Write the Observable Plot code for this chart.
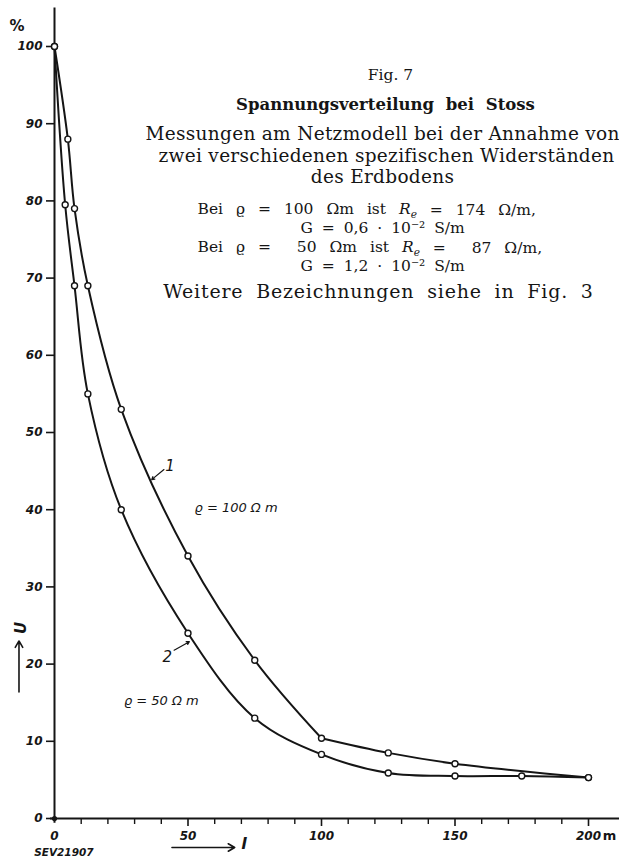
<!DOCTYPE html>
<html>
<head>
<meta charset="utf-8">
<script src="https://cdn.jsdelivr.net/npm/d3@7"></script>
<script src="https://cdn.jsdelivr.net/npm/@observablehq/plot@0.6"></script>
<style>
  html, body { margin: 0; padding: 0; background: #fff; }
  svg text { white-space: pre; }
</style>
</head>
<body>
<div id="chart"></div>
<script>
// Measured impulse voltage U (%) along the line, distance l in metres
const lengthsRho100 = [0, 5, 7.5, 12.5, 25, 50, 75, 100, 125, 150, 200];
const voltageRho100 = [100, 88, 79, 69, 53, 34, 20.5, 10.4, 8.5, 7.1, 5.3];
const lengthsRho50 = [0, 4, 7.5, 12.5, 25, 50, 75, 100, 125, 150, 175, 200];
const voltageRho50 = [100, 79.5, 69, 55, 40, 24, 13, 8.3, 5.9, 5.5, 5.5, 5.3];

// Axis ticks
const yTicks = [0, 10, 20, 30, 40, 50, 60, 70, 80, 90, 100];
const xLabelTicks = [0, 50, 100, 150, 200];
const xMinorTicks = [10, 20, 30, 40, 60, 70, 80, 90, 110, 120, 130, 140, 160, 170, 180, 190];

// Caption block
const noteTitle = "Fig. 7";
const noteHeading = "Spannungsverteilung bei Stoss";
const noteBody = [
  "Messungen am Netzmodell bei der Annahme von",
  "zwei verschiedenen spezifischen Widerständen",
  "des Erdbodens"
];
const noteParams = [
  "Bei ϱ = 100 Ωm ist Rₑ = 174 Ω/m,",
  "G = 0,6 · 10⁻² S/m",
  "Bei ϱ =  50 Ωm ist Rₑ =  87 Ω/m,",
  "G = 1,2 · 10⁻² S/m"
];
const noteRef = "Weitere Bezeichnungen siehe in Fig. 3";
const curveLabels = ["1", "2"];
const rhoLabels = ["ϱ = 100 Ω m", "ϱ = 50 Ω m"];

const rows = (ls, us, series) => ls.map((l, i) => ({l, u: us[i], series}));
const rho100 = rows(lengthsRho100, voltageRho100, "100");
const rho50 = rows(lengthsRho50, voltageRho50, "50");

// curve 1 has a visible bend at l = 100 m, so it is drawn in two smooth pieces
const rho100Near = rho100.filter(d => d.l <= 100);
const rho100Far = rho100.filter(d => d.l >= 100);

const ink = "#151515";
const hand = {fontFamily: "DejaVu Sans", fontStyle: "oblique", fill: ink};
const serif = {fontFamily: "DejaVu Serif", fill: ink};

// text placed relative to the top-left corner of the frame
const note = (text, dx, dy, opts = {}) =>
  Plot.text([text], {text: d => d, frameAnchor: "top-left", dx, dy, textAnchor: "middle", lineAnchor: "middle", ...serif, ...opts});

const chart = Plot.plot({
  width: 619,
  height: 859,
  marginLeft: 54,
  marginRight: 31,
  marginTop: 46,
  marginBottom: 41,
  style: {background: "#fff", color: ink},
  x: {domain: [0, 200]},
  y: {domain: [0, 100]},
  marks: [
    // axis lines
    Plot.ruleX([0], {y1: -0.6, y2: 105, stroke: ink, strokeWidth: 2}),
    Plot.ruleY([0], {x1: -1.5, x2: 213, stroke: ink, strokeWidth: 2}),
    Plot.axisY({ticks: yTicks, tickSize: 8, tickPadding: 4, label: null, strokeWidth: 1.6,
      fontSize: 12, fontWeight: "bold", ...hand}),
    Plot.axisX({ticks: xLabelTicks.filter(d => d > 0), tickSize: 8, tickPadding: 5, label: null, strokeWidth: 1.6,
      fontSize: 12, fontWeight: "bold", ...hand}),
    Plot.axisX({ticks: xMinorTicks, tickSize: 6, text: null, label: null, strokeWidth: 1.4}),
    Plot.text([xLabelTicks[0]], {x: d => d, y: 0, dy: 18, text: d => String(d), fontSize: 12, fontWeight: "bold", ...hand}),
    Plot.text(["m"], {x: 200, y: 0, dx: 21, dy: 17, text: d => d, fontSize: 13, fontFamily: "DejaVu Sans", fontWeight: "bold", fill: ink}),
    Plot.dot([0], {x: 0, y: 0, r: 2.6, fill: ink}),

    // axis titles
    Plot.text(["%"], {x: -14, y: 102.6, text: d => d, fontSize: 15, fontWeight: "bold", fontFamily: "DejaVu Sans", fill: ink}),
    Plot.text(["U"], {x: -12.5, y: 24.7, text: d => d, rotate: -90, fontSize: 15, fontWeight: "bold", ...hand}),
    Plot.arrow([0], {x1: -13.3, y1: 16.4, x2: -13.3, y2: 23.0, stroke: ink, strokeWidth: 1.6, headLength: 7}),
    Plot.arrow([0], {x1: 44, y1: -3.75, x2: 67.5, y2: -3.75, stroke: ink, strokeWidth: 1.6, headLength: 7}),
    Plot.text(["l"], {x: 71, y: -3.3, text: d => d, fontSize: 16, fontWeight: "bold", ...hand}),
    Plot.text(["SEV21907"], {x: 3.5, y: -4.4, text: d => d, fontSize: 10.5, fontWeight: "bold", ...hand}),

    // measured curves
    Plot.line(rho100Near, {x: "l", y: "u", curve: "catmull-rom", stroke: ink, strokeWidth: 2}),
    Plot.line(rho100Far, {x: "l", y: "u", curve: "catmull-rom", stroke: ink, strokeWidth: 2}),
    Plot.line(rho50, {x: "l", y: "u", curve: "catmull-rom", stroke: ink, strokeWidth: 2}),
    Plot.dot([...rho100, ...rho50], {x: "l", y: "u", r: 3, fill: "#fff", stroke: ink, strokeWidth: 1.4}),

    // curve labels
    Plot.text([curveLabels[0]], {x: 43.3, y: 45.6, text: d => d, fontSize: 15, ...hand}),
    Plot.arrow([0], {x1: 41, y1: 45.2, x2: 36.4, y2: 43.9, stroke: ink, strokeWidth: 1.2, headLength: 4}),
    Plot.text([rhoLabels[0]], {x: 68, y: 40.3, text: d => d, fontSize: 13, ...hand}),
    Plot.text([curveLabels[1]], {x: 42.2, y: 20.9, text: d => d, fontSize: 15, ...hand}),
    Plot.arrow([0], {x1: 44.8, y1: 21.8, x2: 50.5, y2: 22.9, stroke: ink, strokeWidth: 1.2, headLength: 4}),
    Plot.text([rhoLabels[1]], {x: 40, y: 15.3, text: d => d, fontSize: 13, ...hand}),

    // caption block
    note(noteTitle, 390 - 54, 75 - 46, {fontSize: 15.5}),
    note(noteHeading, 385 - 54, 104 - 46, {fontSize: 16.5, fontWeight: "bold"}),
    note(noteBody[0], 145 - 54, 134 - 46, {fontSize: 18.5, textAnchor: "start"}),
    note(noteBody[1], 386 - 54, 156 - 46, {fontSize: 18.5}),
    note(noteBody[2], 382 - 54, 177 - 46, {fontSize: 18.5}),
    note(noteParams[0], 197 - 54, 209 - 46, {fontSize: 15.5, textAnchor: "start"}),
    note(noteParams[1], 300 - 54, 228 - 46, {fontSize: 15.5, textAnchor: "start"}),
    note(noteParams[2], 197 - 54, 247 - 46, {fontSize: 15.5, textAnchor: "start"}),
    note(noteParams[3], 300 - 54, 266 - 46, {fontSize: 15.5, textAnchor: "start"}),
    note(noteRef, 378 - 54, 291 - 46, {fontSize: 19})
  ]
});

// letter and word spacing of the caption lines
const spacing = new Map([
  [noteHeading, ["0px", "6px"]],
  [noteBody[0], ["0.3px", "0px"]],
  [noteBody[1], ["0.3px", "0px"]],
  [noteBody[2], ["0.3px", "0px"]],
  [noteParams[0], ["0px", "8px"]],
  [noteParams[1], ["0px", "4px"]],
  [noteParams[2], ["0px", "8px"]],
  [noteParams[3], ["0px", "4px"]],
  [noteRef, ["0.8px", "6px"]]
]);

d3.select(chart).selectAll("text").each(function () {
  const t = this.textContent;
  const s = spacing.get(t);
  if (s) d3.select(this).style("letter-spacing", s[0]).style("word-spacing", s[1]);
  // italic R with subscript e in the resistance lines
  if (!t.includes("Rₑ")) return;
  const [head, tail] = t.split("Rₑ");
  const sel = d3.select(this).text(null);
  sel.append("tspan").text(head);
  sel.append("tspan").attr("font-style", "italic").text("R");
  sel.append("tspan").attr("font-style", "italic").attr("font-size", "0.68em").attr("dy", "0.3em").text("e");
  sel.append("tspan").attr("dy", "-0.2em").text(tail);
});

document.getElementById("chart").appendChild(chart);
</script>
</body>
</html>
